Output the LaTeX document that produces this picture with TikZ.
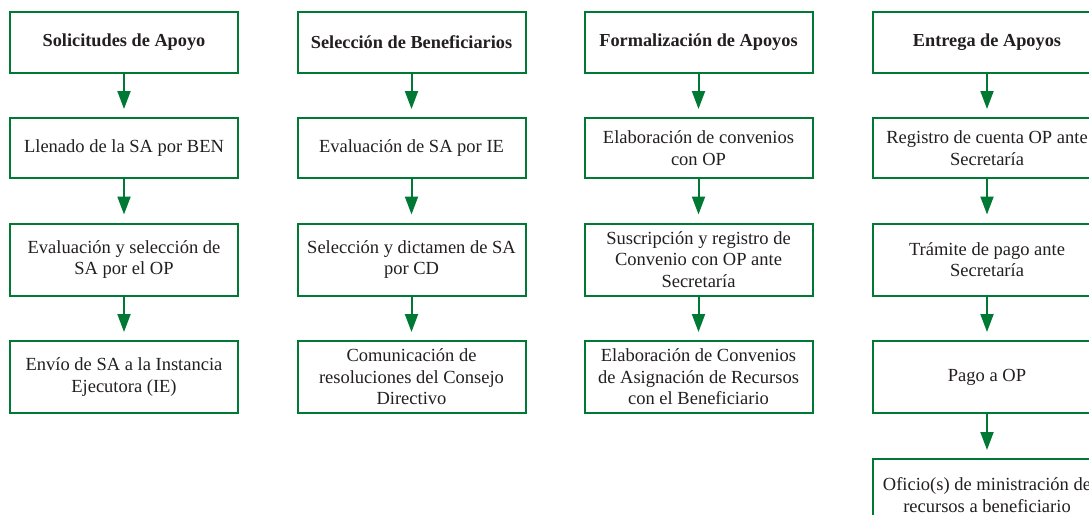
\documentclass[tikz,border=0pt]{standalone}
\usepackage{fontspec}
\setmainfont{Liberation Serif}
\usetikzlibrary{arrows.meta}
\definecolor{gr}{RGB}{0,121,52}
\definecolor{tx}{RGB}{35,31,32}
\tikzset{
  box/.style={draw=gr, line width=2pt, fill=white, text=tx, align=center,
    minimum width=228pt, inner sep=0pt, font=\fontsize{18.5}{21.5}\selectfont},
  hbox/.style={box, minimum height=61pt, font=\fontsize{18.3}{21.5}\selectfont\bfseries},
  sbox/.style={box, minimum height=60pt},
  tbox/.style={box, minimum height=72pt},
  flow/.style={draw=gr, line width=2pt, -{Triangle[length=18pt,width=13pt]}, shorten >=8pt}
}
\begin{document}
\begin{tikzpicture}[x=1pt,y=-1pt]
\useasboundingbox (0,0) rectangle (1089,514);
\clip (0,0) rectangle (1089,514);
% column 1
\node[hbox] (a1) at (124,42.5) {Solicitudes de Apoyo};
\node[sbox] (a2) at (124,148) {Llenado de la SA por BEN};
\node[tbox] (a3) at (124,259.5) {Evaluación y selección de\\SA por el OP};
\node[tbox] (a4) at (124,377) {Envío de SA a la Instancia\\Ejecutora (IE)};
% column 2
\node[hbox] (b1) at (411.5,42.5) {Selección de Beneficiarios};
\node[sbox] (b2) at (411.5,148) {Evaluación de SA por IE};
\node[tbox] (b3) at (411.5,259.5) {Selección y dictamen de SA\\por CD};
\node[tbox] (b4) at (411.5,377) {Comunicación de\\resoluciones del Consejo\\Directivo};
% column 3
\node[hbox] (c1) at (698.5,42.5) {Formalización de Apoyos};
\node[sbox] (c2) at (698.5,148) {Elaboración de convenios\\con OP};
\node[tbox] (c3) at (698.5,259.5) {Suscripción y registro de\\Convenio con OP ante\\Secretaría};
\node[tbox] (c4) at (698.5,377) {Elaboración de Convenios\\de Asignación de Recursos\\con el Beneficiario};
% column 4
\node[hbox] (d1) at (987,42.5) {Entrega de Apoyos};
\node[sbox] (d2) at (987,148) {Registro de cuenta OP ante\\Secretaría};
\node[tbox] (d3) at (987,259.5) {Trámite de pago ante\\Secretaría};
\node[tbox] (d4) at (987,377) {Pago a OP};
\node[tbox] (d5) at (987,495) {Oficio(s) de ministración de\\recursos a beneficiario};
% connectors
\foreach \c in {a,b,c,d}{
  \draw[flow] (\c1) -- (\c2);
  \draw[flow] (\c2) -- (\c3);
  \draw[flow] (\c3) -- (\c4);
}
\draw[flow] (d4) -- (d5);
\end{tikzpicture}
\end{document}
